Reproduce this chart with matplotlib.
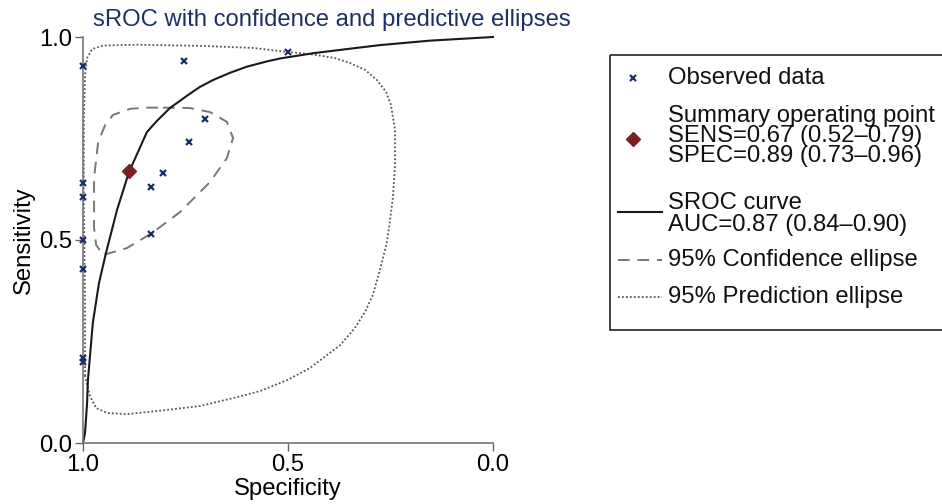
import matplotlib
matplotlib.use("Agg")
import matplotlib.pyplot as plt
from matplotlib.patches import Rectangle

plt.rcParams['font.family'] = ['Liberation Sans', 'DejaVu Sans']

# observed studies (specificity, sensitivity)
obs_spec = [0.754, 0.500, 0.702, 0.741, 0.805, 0.834, 0.834,
            1.0, 1.0, 1.0, 1.0, 1.0, 1.0, 1.0]
obs_sens = [0.941, 0.963, 0.798, 0.741, 0.665, 0.631, 0.515,
            0.929, 0.640, 0.606, 0.500, 0.429, 0.209, 0.200]

# summary operating point
sum_spec = 0.888
sum_sens = 0.670

# SROC curve
sroc_spec = [1.0, 0.995, 0.990, 0.988, 0.976, 0.961, 0.944, 0.917, 0.888,
             0.844, 0.820, 0.788, 0.744, 0.715, 0.683, 0.641, 0.600, 0.551,
             0.520, 0.439, 0.350, 0.276, 0.154, 0.0]
sroc_sens = [0.0, 0.025, 0.099, 0.155, 0.296, 0.394, 0.468, 0.574, 0.667,
             0.766, 0.793, 0.825, 0.857, 0.877, 0.894, 0.912, 0.927, 0.940,
             0.947, 0.960, 0.971, 0.980, 0.991, 1.0]

# 95% confidence region
conf_spec = [0.805, 0.739, 0.690, 0.649, 0.634, 0.649, 0.690, 0.763, 0.832,
             0.893, 0.951, 0.968, 0.973, 0.973, 0.963, 0.946, 0.927, 0.885,
             0.849, 0.805]
conf_sens = [0.826, 0.825, 0.815, 0.791, 0.751, 0.702, 0.643, 0.569, 0.517,
             0.480, 0.463, 0.488, 0.530, 0.653, 0.741, 0.783, 0.808, 0.823,
             0.826, 0.826]

# 95% prediction region
pred_spec = [0.995, 0.995, 0.998, 0.998, 0.995, 0.990, 0.978, 0.951, 0.868,
             0.707, 0.585, 0.500, 0.446, 0.385, 0.349, 0.312, 0.283, 0.261,
             0.249, 0.239, 0.239, 0.244, 0.251, 0.259, 0.276, 0.293, 0.312,
             0.337, 0.373, 0.446, 0.502, 0.568, 0.624, 0.715, 0.800, 0.893,
             0.941, 0.968, 0.983, 0.990, 0.995]
pred_sens = [0.165, 0.352, 0.599, 0.796, 0.906, 0.948, 0.970, 0.979, 0.981,
             0.978, 0.973, 0.963, 0.958, 0.948, 0.936, 0.919, 0.894, 0.865,
             0.833, 0.771, 0.685, 0.606, 0.549, 0.493, 0.426, 0.365, 0.323,
             0.283, 0.241, 0.185, 0.155, 0.128, 0.113, 0.091, 0.081, 0.071,
             0.074, 0.086, 0.116, 0.143, 0.165]

legend_labels = ['Observed data',
                 'Summary operating point\nSENS=0.67 (0.52\u20130.79)\nSPEC=0.89 (0.73\u20130.96)',
                 'SROC curve\nAUC=0.87 (0.84\u20130.90)',
                 '95% Confidence ellipse', '95% Prediction ellipse']

navy = '#1c2f6b'
darkred = '#7d1e22'
fs = 17.2

fig = plt.figure(figsize=(9.42, 5.04), dpi=100)
ax = fig.add_axes([83/942, 61/504, 410/942, 406/504])

ax.plot(pred_spec, pred_sens, color='#555555', lw=1.3, ls=(0, (1, 1.2)), clip_on=False)
ax.plot(conf_spec, conf_sens, color='#777777', lw=1.4, ls=(0, (6, 4)), clip_on=False)
ax.plot(sroc_spec, sroc_sens, color='#1a1a1a', lw=1.5, clip_on=False)
ax.plot(obs_spec, obs_sens, ls='none', marker='x', ms=4.5, mew=1.6, color=navy, clip_on=False, zorder=5)
ax.plot([sum_spec], [sum_sens], ls='none', marker='D', ms=7, color=darkred, clip_on=False, zorder=6)

ax.set_xlim(1, 0)
ax.set_ylim(0, 1)
ax.set_xticks([1.0, 0.5, 0.0])
ax.set_yticks([0.0, 0.5, 1.0])
ax.set_xticklabels(['1.0', '0.5', '0.0'])
ax.set_yticklabels(['0.0', '0.5', '1.0'])
ax.tick_params(labelsize=fs, length=6, width=1, color='#666666', direction='out', pad=2)
for s in ['top', 'right']:
    ax.spines[s].set_visible(False)
for s in ['left', 'bottom']:
    ax.spines[s].set_color('#777777')
    ax.spines[s].set_linewidth(1.2)
ax.set_xlabel('Specificity', fontsize=fs, labelpad=1)
ax.set_ylabel('Sensitivity', fontsize=fs, labelpad=3)

fig.text(93/942, 1 - 20/504, 'sROC with confidence and predictive ellipses',
         color=navy, fontsize=fs, va='center', ha='left')

# legend drawn in pixel space
lax = fig.add_axes([0, 0, 1, 1])
lax.set_xlim(0, 942)
lax.set_ylim(504, 0)
lax.axis('off')
lax.add_patch(Rectangle((610, 55), 340, 275, fill=False, ec='#222222', lw=1.2))
lax.plot([633], [78], ls='none', marker='x', ms=4.5, mew=1.6, color=navy)
lax.plot([633], [139], ls='none', marker='D', ms=7, color=darkred)
lax.plot([618, 662], [212, 212], color='#1a1a1a', lw=1.5)
lax.plot([618, 662], [260, 260], color='#777777', lw=1.4, ls=(0, (6, 4)))
lax.plot([618, 662], [297, 297], color='#555555', lw=1.3, ls=(0, (1, 1.2)))
lax.text(668, 78, legend_labels[0], fontsize=fs, va='center', ha='left', color='#111111')
lax.text(668, 136, legend_labels[1], fontsize=fs, va='center', ha='left', color='#111111',
         linespacing=0.9)
lax.text(668, 214, legend_labels[2], fontsize=fs, va='center', ha='left', color='#111111',
         linespacing=0.95)
lax.text(668, 260, legend_labels[3], fontsize=fs, va='center', ha='left', color='#111111')
lax.text(668, 297, legend_labels[4], fontsize=fs, va='center', ha='left', color='#111111')

fig.savefig('out.png', dpi=100)
